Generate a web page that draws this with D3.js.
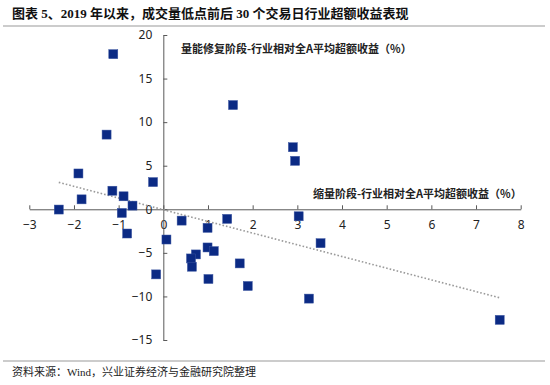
<!DOCTYPE html>
<html>
<head>
<meta charset="utf-8">
<script src="https://cdn.jsdelivr.net/npm/d3@7"></script>
<style>
  body { margin: 0; background: #fff; }
  svg { display: block; }
</style>
</head>
<body>
<div id="chart"></div>
<script>
// 缩量阶段 (x) vs 量能修复阶段 (y), 行业相对全A平均超额收益 %
const shrinkReturn = [-1.12, -1.27, -1.90, -0.23, -1.14, -1.83, -0.89, -0.69, -2.34, -0.93,
  1.56, 2.90, 2.95, 3.03, 1.43, 0.41, 0.99, -0.81, 0.07, 0.99,
  1.13, 0.73, 0.62, 0.64, 1.71, -0.16, 1.01, 1.89, 3.52, 3.26, 7.53];
const recoverReturn = [17.8, 8.57, 4.11, 3.12, 2.13, 1.14, 1.49, 0.42, -0.03, -0.42,
  11.96, 7.12, 5.56, -0.8, -1.1, -1.3, -2.13, -2.78, -3.47, -4.38,
  -4.8, -5.18, -5.64, -6.59, -6.21, -7.47, -8.0, -8.8, -3.89, -10.25, -12.69];
const xTicks = [-3, -2, -1, 0, 1, 2, 3, 4, 5, 6, 7, 8];
const yTicks = [-15, -10, -5, 0, 5, 10, 15, 20];

const titleText = '图表 5、2019 年以来，成交量低点前后 30 个交易日行业超额收益表现';
const sourceText = '资料来源：Wind，兴业证券经济与金融研究院整理';
const yLabel = '量能修复阶段-行业相对全A平均超额收益（%）';
const xLabel = '缩量阶段-行业相对全A平均超额收益（%）';

const W = 550, H = 385;
const serif = '"Liberation Serif", "Noto Sans CJK SC", serif';
const sans = '"Noto Sans CJK SC", "Noto Sans", sans-serif';

const svg = d3.select('#chart').append('svg')
  .attr('width', W)
  .attr('height', H);

// title + rules
svg.append('text')
  .attr('x', 12).attr('y', 18)
  .attr('font-family', serif)
  .attr('font-weight', 'bold')
  .attr('font-size', 13)
  .attr('fill', '#111')
  .text(titleText);

svg.append('line')
  .attr('x1', 3).attr('x2', 545)
  .attr('y1', 26).attr('y2', 26)
  .attr('stroke', '#999').attr('stroke-width', 1);

svg.append('line')
  .attr('x1', 3).attr('x2', 545)
  .attr('y1', 361).attr('y2', 361)
  .attr('stroke', '#999').attr('stroke-width', 1);

svg.append('text')
  .attr('x', 12).attr('y', 376)
  .attr('font-family', serif)
  .attr('font-size', 11)
  .attr('fill', '#222')
  .text(sourceText);

// scales
const x = d3.scaleLinear().domain([-3, 8]).range([29.3, 520.7]);
const y = d3.scaleLinear().domain([-15, 20]).range([340, 35]);

const xAxis = svg.append('g')
  .attr('transform', 'translate(0,' + y(0) + ')')
  .call(d3.axisBottom(x).tickValues(xTicks).tickSizeInner(-4).tickSizeOuter(0).tickPadding(11));

const yAxis = svg.append('g')
  .attr('transform', 'translate(' + x(0) + ',0)')
  .call(d3.axisLeft(y).tickValues(yTicks).tickSizeInner(-4).tickSizeOuter(0).tickPadding(11));

[xAxis, yAxis].forEach(g => {
  g.selectAll('path, line').attr('stroke', '#595959').attr('stroke-width', 1);
  g.selectAll('text')
    .attr('font-family', '"Noto Sans", "DejaVu Sans", sans-serif')
    .attr('font-size', 12)
    .attr('fill', '#222');
});

// linear trend line (least squares)
const n = shrinkReturn.length;
const mx = d3.mean(shrinkReturn), my = d3.mean(recoverReturn);
let sxy = 0, sxx = 0;
for (let i = 0; i < n; i++) {
  sxy += (shrinkReturn[i] - mx) * (recoverReturn[i] - my);
  sxx += (shrinkReturn[i] - mx) ** 2;
}
const slope = sxy / sxx, icpt = my - slope * mx;
const [x0, x1] = d3.extent(shrinkReturn);

svg.append('line')
  .attr('x1', x(x0)).attr('y1', y(icpt + slope * x0))
  .attr('x2', x(x1)).attr('y2', y(icpt + slope * x1))
  .attr('stroke', '#9a9a9a')
  .attr('stroke-width', 1.6)
  .attr('stroke-dasharray', '1.6,2');

// points
const pts = shrinkReturn.map((v, i) => ({x: v, y: recoverReturn[i]}));
const s = 9;
svg.append('g')
  .selectAll('rect')
  .data(pts)
  .enter().append('rect')
  .attr('x', d => x(d.x) - s / 2)
  .attr('y', d => y(d.y) - s / 2)
  .attr('width', s)
  .attr('height', s)
  .attr('fill', '#0b2a84')
  .attr('stroke', '#3a55a0')
  .attr('stroke-width', 0.5);

// axis titles
svg.append('text')
  .attr('x', 181).attr('y', 53)
  .attr('font-family', sans)
  .attr('font-weight', 'bold')
  .attr('font-size', 11)
  .attr('fill', '#222')
  .text(yLabel);

svg.append('text')
  .attr('x', 313).attr('y', 198)
  .attr('font-family', sans)
  .attr('font-weight', 'bold')
  .attr('font-size', 11)
  .attr('fill', '#222')
  .text(xLabel);
</script>
</body>
</html>
